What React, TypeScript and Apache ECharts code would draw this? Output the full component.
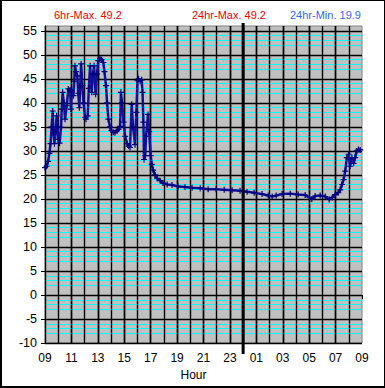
import React, { useEffect, useRef } from 'react';
import * as echarts from 'echarts';

// minutes after 09:00 (start of 24h window)
const minutesFrom0900 = [
  0, 7, 14, 20, 25, 30, 35, 38, 43, 48, 53, 57, 60, 66, 73, 76, 80, 86, 91, 99,
  106, 114, 118, 121, 129, 133, 136, 141, 147, 151, 156, 160, 164, 170, 175, 182, 186, 194, 199, 205,
  212, 218, 223, 230, 236, 242, 250, 257, 265, 270, 277, 282, 288, 295, 302, 310, 318, 327, 334, 341,
  345, 350, 357, 364, 373, 380, 386, 394, 400, 409, 415, 420, 425, 432, 439, 443, 447, 450, 455, 459,
  468, 473, 480, 485, 491, 500, 509, 523, 536, 555, 577, 605, 636, 668, 705, 741, 777, 814, 850, 886,
  918, 950, 986, 1014, 1032, 1050, 1077, 1114, 1150, 1182, 1212, 1227, 1250, 1273, 1291, 1305, 1318, 1332, 1341, 1349,
  1356, 1364, 1371, 1379, 1386, 1394, 1402, 1409, 1416, 1424, 1432,
];

const temperature = [
  26.5, 26.8, 27.8, 29.5, 31.5, 35, 38.3, 33.9, 31.5, 34, 37.3, 35, 32.4, 31.6, 34.9, 38.7, 42.2, 40, 36.6, 39.4,
  42.9, 42.7, 38.7, 42.5, 41.5, 44.5, 47.7, 46.5, 45.6, 42, 39.0, 43.5, 48.1, 43.6, 40, 37, 36.6, 37.3, 43, 47.7,
  42.2, 46, 47.7, 41.8, 46, 48.8, 49.2, 49, 48.4, 46.5, 43.6, 40, 36.6, 35, 34.2, 33.9, 33.8, 34.2, 34.5, 35.1,
  42.2, 40, 36, 33, 31.5, 31, 30.7, 39.7, 35, 31.3, 38, 44.6, 45, 44.5, 44.8, 42.2, 36, 28.2, 29, 33,
  37.6, 34, 29, 27.2, 26, 25, 24.3, 23.8, 23.3, 23, 22.9, 22.6, 22.5, 22.3, 22.2, 22, 22, 21.9, 21.8, 21.7,
  21.5, 21.3, 21, 20.7, 20.5, 20.7, 21, 21.1, 20.9, 20.8, 20.0, 20.6, 20.7, 20.5, 19.9, 20.3, 20.9, 21.3, 21.9, 23,
  24, 25.8, 28.6, 29.3, 26.8, 28.6, 27.4, 28.6, 30, 30.3, 30.2,
];

const hourLabels = ['09', '11', '13', '15', '17', '19', '21', '23', '01', '03', '05', '07', '09'];
const headerTexts = ['6hr-Max. 49.2', '24hr-Max. 49.2', '24hr-Min. 19.9'];
const headerColors = ['#ff0000', '#ff0000', '#3366ff'];
const midnightMinute = 900;

const FONT = 'Liberation Sans, Arial, sans-serif';
const PLUS = 'path://M4 0H6V4H10V6H6V10H4V6H0V4H4Z';

export default function App() {
  const ref = useRef<HTMLDivElement>(null);

  useEffect(() => {
    if (!ref.current) return;
    const chart = echarts.init(ref.current, undefined, { renderer: 'svg' });
    const data = minutesFrom0900.map((m, i) => [m, temperature[i]]);
    const headerLeft = [52, 190, 288];

    chart.setOption({
      animation: false,
      title: headerTexts.map((t, i) => ({
        text: t,
        left: headerLeft[i],
        top: 8,
        padding: 0,
        textStyle: { color: headerColors[i], fontSize: 11, fontWeight: 'normal', fontFamily: FONT },
      })),
      grid: {
        left: 43,
        top: 25,
        width: 317,
        height: 317,
        show: true,
        backgroundColor: '#c0c0c0',
        borderColor: '#808080',
        borderWidth: 1,
      },
      xAxis: [
        {
          type: 'value',
          min: 0,
          max: 1440,
          interval: 120,
          z: 2,
          name: 'Hour',
          nameLocation: 'middle',
          nameGap: 24,
          nameTextStyle: { color: '#000', fontSize: 12, fontFamily: FONT, padding: [0, 20, 0, 0] },
          axisLine: { show: true, lineStyle: { color: '#000', width: 1 } },
          axisTick: { show: true, length: 4, lineStyle: { color: '#000', width: 1 } },
          axisLabel: {
            color: '#000',
            fontSize: 12,
            fontFamily: FONT,
            margin: 9,
            formatter: (v: number) => hourLabels[Math.round(v / 120)] ?? '',
          },
          splitLine: { show: true, showMaxLine: false, lineStyle: { color: '#000', width: 1.4 } },
        },
        {
          type: 'value',
          min: 0,
          max: 1440,
          interval: 60,
          position: 'bottom',
          z: 2,
          axisLine: { show: false },
          axisTick: { show: false },
          axisLabel: { show: false },
          splitLine: { show: true, showMaxLine: false, showMinLine: false, lineStyle: { color: '#000', width: 1.4 } },
        },
      ],
      yAxis: [
        {
          type: 'value',
          min: -10,
          max: 56,
          interval: 5,
          position: 'left',
          z: 2,
          axisLine: { show: true, lineStyle: { color: '#000', width: 1 } },
          axisTick: { show: true, length: 4, lineStyle: { color: '#000', width: 1 } },
          axisLabel: {
            color: '#000',
            fontSize: 12.5,
            fontFamily: FONT,
            margin: 8,
            showMaxLabel: false,
            formatter: (v: number) => (v % 5 === 0 ? String(v) : ''),
          },
          splitLine: { show: true, showMaxLine: false, lineStyle: { color: '#000', width: 1.4 } },
        },
        {
          type: 'value',
          min: -10,
          max: 56,
          interval: 1,
          position: 'left',
          z: 1,
          axisLine: { show: false },
          axisTick: { show: false },
          axisLabel: { show: false },
          splitLine: {
            show: true,
            showMaxLine: false,
            showMinLine: false,
            lineStyle: { color: ['rgba(0,0,0,0)', '#00ffff', '#00ffff', '#00ffff', '#00ffff'], width: 1 },
          },
        },
      ],
      series: [
        {
          type: 'line',
          data,
          xAxisIndex: 0,
          yAxisIndex: 0,
          z: 5,
          symbol: PLUS,
          symbolSize: 6,
          showAllSymbol: true,
          lineStyle: { color: '#10109a', width: 2.5 },
          itemStyle: { color: '#000080' },
        },
      ],
    });

    const top = chart.convertToPixel({ gridIndex: 0 }, [midnightMinute, 56]) as number[];
    const bottom = chart.convertToPixel({ gridIndex: 0 }, [midnightMinute, -10]) as number[];
    chart.setOption({
      graphic: [
        {
          type: 'line',
          z: 100,
          shape: { x1: top[0], y1: top[1] - 3, x2: bottom[0], y2: bottom[1] + 11 },
          style: { stroke: '#000', lineWidth: 3 },
        },
      ],
    });

    return () => chart.dispose();
  }, []);

  return (
    <div
      style={{
        position: 'fixed',
        left: 0,
        top: 0,
        width: 385,
        height: 388,
        boxSizing: 'border-box',
        borderStyle: 'solid',
        borderColor: '#000',
        borderWidth: '1px 1px 2px 2px',
        background: '#fff',
      }}
    >
      <div ref={ref} style={{ width: 382, height: 385 }} />
    </div>
  );
}
